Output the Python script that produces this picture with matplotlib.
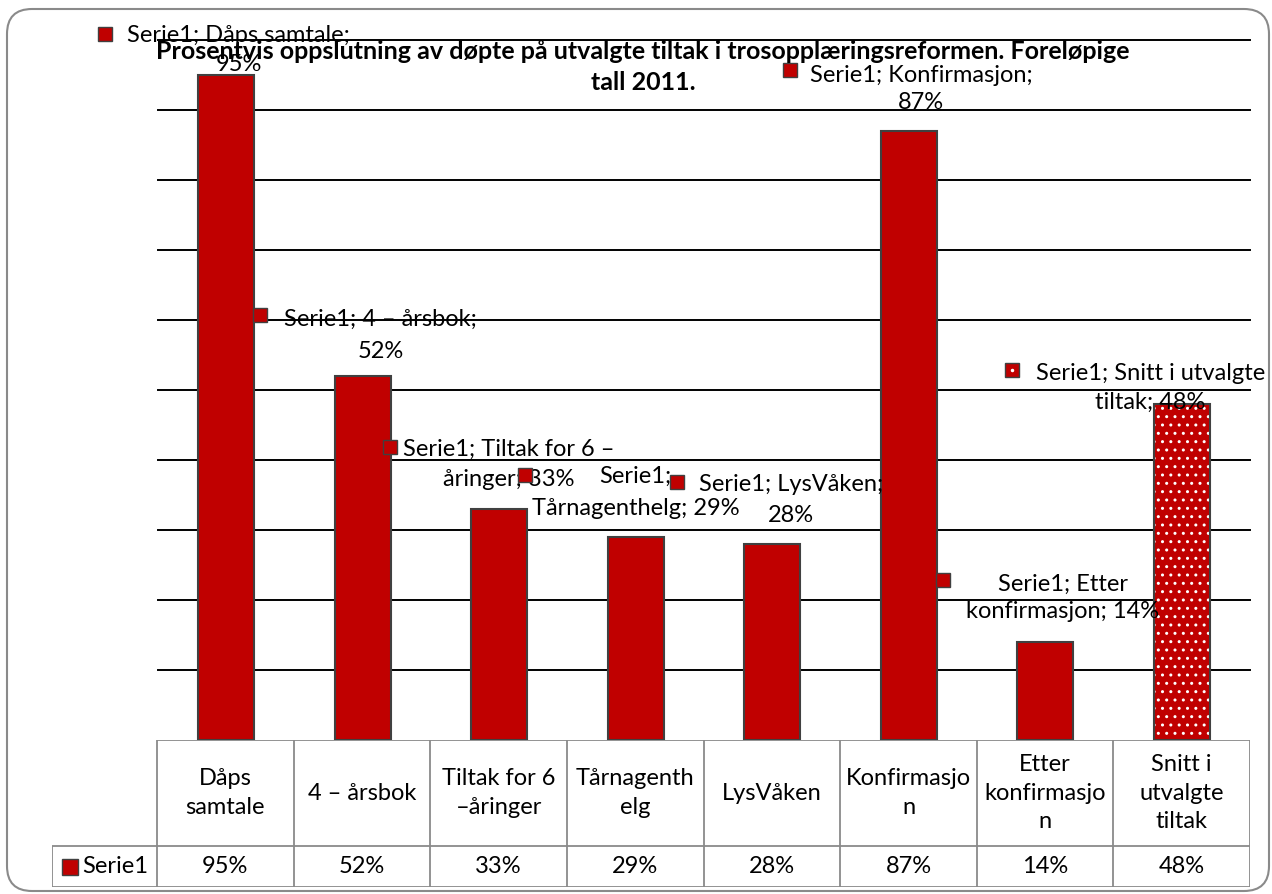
import numpy as np
import matplotlib.pyplot as plt
from matplotlib.patches import FancyBboxPatch

plt.rcParams['font.family'] = ['Lato', 'DejaVu Sans']

categories = ['Dåps samtale', '4 – årsbok', 'Tiltak for 6 –åringer', 'Tårnagenthelg',
              'LysVåken', 'Konfirmasjon', 'Etter konfirmasjon', 'Snitt i utvalgte tiltak']
table_labels = ['Dåps\nsamtale', '4 – årsbok', 'Tiltak for 6\n–åringer', 'Tårnagenth\nelg',
                'LysVåken', 'Konfirmasjo\nn', 'Etter\nkonfirmasjo\nn', 'Snitt i\nutvalgte\ntiltak']
values = [95, 52, 33, 29, 28, 87, 14, 48]
series_name = 'Serie1'
label_texts = ['Serie1; Dåps samtale;\n95%', 'Serie1; 4 – årsbok;\n52%',
               'Serie1; Tiltak for 6 –\nåringer; 33%', 'Serie1;\nTårnagenthelg; 29%',
               'Serie1; LysVåken;\n28%', 'Serie1; Konfirmasjon;\n87%',
               'Serie1; Etter\nkonfirmasjon; 14%', 'Serie1; Snitt i utvalgte\ntiltak; 48%']

# label placement (Excel's messy layout): text centre, key marker, line spacing
label_pos = [(0.09, 98.6), (1.13, 57.8), (2.07, 39.4), (3.0, 35.4),
             (4.14, 34.3), (5.09, 93.0), (6.13, 20.3), (6.77, 50.3)]
key_pos = [(-0.89, 100.9), (0.25, 60.7), (1.2, 41.9), (2.19, 37.9),
           (3.3, 36.9), (4.13, 95.7), (5.25, 22.9), (5.76, 52.9)]
label_ls = [1.45, 1.7, 1.55, 1.65, 1.6, 1.4, 1.4, 1.5]

RED = '#C00000'
EDGE = '#404040'
GRID_T = '#8a8a8a'
W, H = 1272, 894
FS = 17

fig = plt.figure(figsize=(W / 100, H / 100), dpi=100)

# rounded frame
frame = FancyBboxPatch((0.07, 0.03), 12.62, 8.82, boxstyle='round,pad=0,rounding_size=0.25',
                       transform=fig.dpi_scale_trans, fc='none', ec='#8a8a8a', lw=1.5, zorder=-1)
fig.patches.append(frame)

ax = fig.add_axes([158 / W, 1 - 740 / H, 1092 / W, 700 / H])
ax.patch.set_alpha(0)
ax.set_xlim(-0.5, 7.5)
ax.set_ylim(0, 100)
x = np.arange(len(values))

ax.bar(x[:-1], values[:-1], width=0.41, color=RED, edgecolor=EDGE, lw=1.5, zorder=3)
ax.bar(x[-1], values[-1], width=0.41, color=RED, edgecolor='white', hatch='..', lw=0, zorder=3)
ax.bar(x[-1], values[-1], width=0.41, fill=False, edgecolor=EDGE, lw=1.5, zorder=4)

ax.set_yticks(np.arange(10, 101, 10))
ax.yaxis.grid(True, color='black', lw=1.4)
ax.set_axisbelow(True)
ax.tick_params(left=False, bottom=False, labelleft=False, labelbottom=False)
for s in ax.spines.values():
    s.set_visible(False)
for gl in ax.get_ygridlines():
    gl.set_clip_on(False)

for i, (txt, (lx, ly), (kx, ky)) in enumerate(zip(label_texts, label_pos, key_pos)):
    ax.text(lx, ly, txt, ha='center', va='center', fontsize=FS, linespacing=label_ls[i],
            zorder=6, clip_on=False)
    ax.plot(kx, ky, marker='s', ms=10, mfc=RED, mec=EDGE, mew=1, clip_on=False, zorder=7)
    if i == len(values) - 1:
        ax.plot(kx, ky, marker='.', ms=3, color='white', ls='none', clip_on=False, zorder=8)

# data table drawn below the plot, same x scale as the bars
lab_w = 105 / 136.5
TOP = 147
ROW = 41  # value row height, header fills the rest
tax = fig.add_axes([52 / W, 1 - 887 / H, 1198 / W, TOP / H])
tax.set_xlim(-0.5 - lab_w, 7.5)
tax.set_ylim(0, TOP)
tax.axis('off')
tax.hlines(TOP, -0.5, 7.5, color=GRID_T, lw=1.3)
tax.hlines([0, ROW], -0.5 - lab_w, 7.5, color=GRID_T, lw=1.3)
tax.vlines(np.arange(len(values) + 1) - 0.5, 0, TOP, color=GRID_T, lw=1.3)
tax.vlines(-0.5 - lab_w, 0, ROW, color=GRID_T, lw=1.3)
for i, (lab, v) in enumerate(zip(table_labels, values)):
    tax.text(i, (ROW + TOP) / 2, lab, ha='center', va='center', fontsize=FS, linespacing=1.45)
    tax.text(i, ROW / 2, f'{v}%', ha='center', va='center', fontsize=FS)
tax.text(-0.5 - lab_w + 0.22, ROW / 2, series_name, ha='left', va='center', fontsize=FS)
tax.plot(-0.5 - lab_w + 0.13, ROW / 2, marker='s', ms=11, mfc=RED, mec=EDGE, mew=1, clip_on=False)

fig.text(643 / W, 1 - 67 / H,
         'Prosentvis oppslutning av døpte på utvalgte tiltak i trosopplæringsreformen. Foreløpige\ntall 2011.',
         ha='center', va='center', fontsize=18, fontweight='bold', linespacing=1.4, zorder=5)

fig.savefig('out.png', dpi=100)
